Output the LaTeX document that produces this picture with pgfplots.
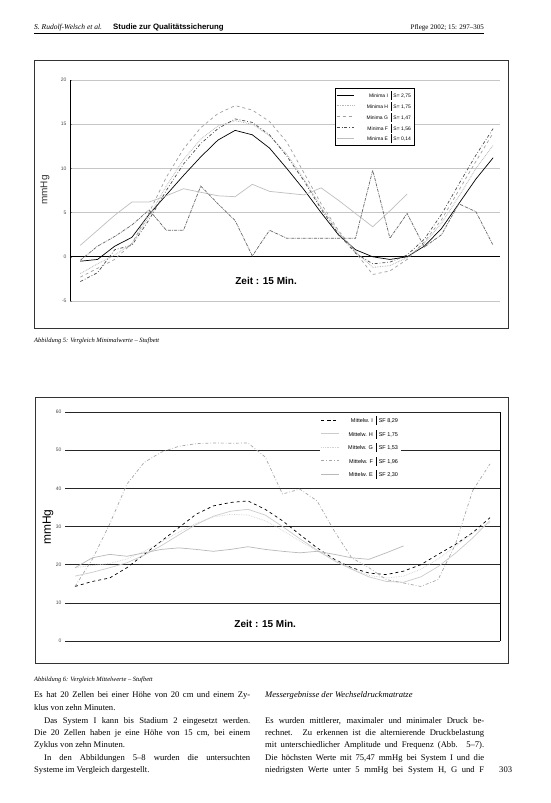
\documentclass[border=0pt]{standalone}
\usepackage{fontspec}
\setmainfont{Liberation Serif}
\setsansfont{Liberation Sans}
\usepackage{pgfplots}
\pgfplotsset{compat=1.18}
\usepackage{pgfplotstable}

\pgfplotstableread{
i G H I F X
0 -2.3 -1.9 -0.5 -2.8 -0.4
1 -1.3 -0.8 -0.3 -1.8 1.2
2 -0.3 0.2 1.2 0.8 2.3
3 1.5 1.5 2.2 1.3 3.6
4 5.0 4.6 4.8 4.2 5.3
5 9.0 8.0 7.0 7.5 3.0
6 12.2 11.0 9.2 10.5 3.0
7 14.6 13.3 11.3 12.8 8.0
8 16.2 14.8 13.2 14.5 6.0
9 17.1 15.4 14.3 15.6 4.1
10 16.6 15.0 13.8 15.2 0.1
11 15.3 13.7 12.3 13.8 3.0
12 13.0 11.6 10.0 11.4 2.1
13 9.5 8.8 7.6 8.6 2.1
14 6.0 5.6 5.0 5.4 2.1
15 3.0 2.8 2.5 2.6 2.1
16 0.5 0.6 0.8 0.4 2.1
17 -2.0 -1.2 0.0 -0.8 9.8
18 -1.6 -1.0 -0.3 -0.6 2.1
19 -0.3 -0.1 0.0 0.2 4.9
20 1.7 1.5 1.2 2.0 1.1
21 4.2 3.8 3.2 4.8 2.5
22 7.5 6.8 6.0 8.2 6.0
23 10.8 10.0 8.8 11.5 5.1
24 14.0 12.6 11.2 14.5 1.3
}\minima

\pgfplotstableread{
i E
0 1.3
1 3.0
2 4.7
3 6.2
4 6.2
5 6.9
6 7.7
7 7.3
8 6.9
9 6.8
10 8.2
11 7.4
12 7.2
13 7.0
14 7.8
15 6.4
16 4.9
17 3.4
18 5.2
19 7.1
}\minimaE

\pgfplotstableread{
i I A B C
0 14.3 14.3 17.0 19.2
1 21.4 15.6 18.0 19.8
2 30.6 16.5 19.2 20.3
3 41.1 19.2 20.5 21.5
4 46.8 22.7 22.5 23.5
5 49.5 26.2 25.0 26.0
6 51.0 29.7 27.8 28.5
7 51.7 33.2 30.5 30.8
8 51.9 35.4 32.7 32.5
9 51.8 36.3 34.0 33.2
10 51.9 36.7 34.5 33.0
11 48.2 34.5 33.0 31.5
12 38.5 31.5 30.0 29.0
13 39.8 27.9 26.8 26.2
14 36.7 24.4 23.8 23.6
15 28.8 21.4 21.0 21.3
16 21.8 19.2 18.8 19.0
17 19.2 17.8 16.8 17.2
18 16.1 17.4 15.6 16.5
19 15.2 18.3 15.4 17.0
20 14.3 20.0 16.8 18.8
21 16.1 22.7 19.5 21.5
22 25.3 25.3 23.0 24.8
23 39.4 28.4 27.0 28.2
24 46.4 32.3 31.5 31.0
}\mittel

\pgfplotstableread{
i E
0 19.2
1 21.8
2 22.7
3 22.2
4 23.1
5 24.0
6 24.4
7 24.0
8 23.5
9 24.0
10 24.7
11 24.0
12 23.5
13 23.1
14 23.5
15 22.7
16 21.8
17 21.4
18 23.1
19 24.9
}\mittelE

\newcommand{\legtxt}[2]{\makebox[32pt][r]{#1}\enspace\rule[-2.5pt]{0.4pt}{9pt}\enspace #2}

\begin{document}
\begin{tikzpicture}
\useasboundingbox[fill=white] (0pt,0pt) rectangle (551pt,803pt);

% header
\node[anchor=base west,inner sep=0pt,font=\fontsize{7.5}{9}\selectfont\itshape] at (34pt,773pt) {S. Rudolf-Welsch et al.};
\node[anchor=base west,inner sep=0pt,font=\fontsize{7.8}{9}\selectfont\sffamily\bfseries] at (113pt,773pt) {Studie zur Qualitätssicherung};
\node[anchor=base east,inner sep=0pt,font=\fontsize{7}{9}\selectfont] at (484pt,773pt) {Pflege 2002; 15: 297–305};
\draw[line width=0.8pt] (34pt,770pt) -- (484pt,770pt);

% frames
\draw[line width=0.5pt,black!80] (34pt,743pt) rectangle (508pt,475pt);
\draw[line width=0.5pt,black!80] (35pt,406pt) rectangle (508pt,140pt);

% ---------- chart 1 ----------
\begin{axis}[
  at={(70pt,502pt)}, anchor=south west,
  scale only axis, width=430pt, height=221pt,
  xmin=-0.6, xmax=24.4, ymin=-5, ymax=20,
  axis x line=none, axis y line*=left,
  y axis line style={black,line width=0.6pt},
  ytick={-5,0,5,10,15,20},
  ymajorgrids, grid style={gray!45,line width=0.6pt},
  major tick length=2pt,
  yticklabel style={font=\sffamily\fontsize{5}{6}\selectfont,text=black!70},
  /pgf/number format/assume math mode=true,
  clip=false,
  legend style={at={(0.616,0.964)},anchor=north west,draw=black,line width=0.4pt,
    font=\sffamily\fontsize{5}{6}\selectfont,inner sep=1pt,row sep=-1.2pt,
    fill=white},
  legend cell align=left,
  every axis plot/.append style={line width=0.7pt},
]
\draw[black,line width=0.8pt] (axis cs:-0.6,0) -- (axis cs:24.4,0);
\addplot[black] table[x=i,y=I] {\minima};
\addlegendentry{\legtxt{Minima I}{S= 2,75}}
\addplot[gray!55,densely dotted,line width=0.9pt] table[x=i,y=H] {\minima};
\addlegendentry{\legtxt{Minima H}{S= 1,75}}
\addplot[gray!75,dashed] table[x=i,y=G] {\minima};
\addlegendentry{\legtxt{Minima G}{S= 1,47}}
\addplot[black!70,dashdotted] table[x=i,y=F] {\minima};
\addlegendentry{\legtxt{Minima F}{S= 1,56}}
\addplot[gray!50] table[x=i,y=E] {\minimaE};
\addlegendentry{\legtxt{Minima E}{S= 0,14}}
\addplot[black!60,densely dashdotted,forget plot] table[x=i,y=X] {\minima};
\node[font=\sffamily\bfseries\fontsize{10}{12}\selectfont] at (axis cs:10.8,-2.7) {Zeit : 15 Min.};
\end{axis}
\node[rotate=90,font=\sffamily\fontsize{10}{12}\selectfont,text=black!80] at (45pt,613pt) {mmHg};
\node[anchor=base west,inner sep=0pt,font=\fontsize{6.5}{8}\selectfont\itshape] at (34pt,460pt) {Abbildung 5: Vergleich Minimalwerte – Stufbett};

% ---------- chart 2 ----------
\begin{axis}[
  at={(65pt,162pt)}, anchor=south west,
  scale only axis, width=435pt, height=229pt,
  xmin=-0.58, xmax=24.58, ymin=0, ymax=60,
  axis x line=none, axis y line*=left,
  y axis line style={draw=none},
  ytick={0,10,...,60},
  ymajorgrids, grid style={black!85,line width=0.6pt},
  major tick length=0pt,
  yticklabel style={font=\sffamily\fontsize{5}{6}\selectfont,text=black!70},
  /pgf/number format/assume math mode=true,
  clip=false,
  legend style={at={(0.586,0.996)},anchor=north west,draw=none,
    font=\sffamily\fontsize{5.5}{6.5}\selectfont,inner sep=1pt,row sep=1.5pt,
    fill=white},
  legend cell align=left,
  every axis plot/.append style={line width=0.7pt},
]
\draw[black,line width=0.6pt] (axis cs:24.58,0) -- (axis cs:24.58,60);
\addplot[black,dashed] table[x=i,y=A] {\mittel};
\addlegendentry{\legtxt{Mittelw. I}{SF 8,29}}
\addplot[gray!40] table[x=i,y=B] {\mittel};
\addlegendentry{\legtxt{Mittelw. H}{SF 1,75}}
\addplot[gray!35,densely dotted] table[x=i,y=C] {\mittel};
\addlegendentry{\legtxt{Mittelw. G}{SF 1,53}}
\addplot[gray!70,dashdotted] table[x=i,y=I] {\mittel};
\addlegendentry{\legtxt{Mittelw. F}{SF 1,96}}
\addplot[gray!55] table[x=i,y=E] {\mittelE};
\addlegendentry{\legtxt{Mittelw. E}{SF 2,30}}
\node[font=\sffamily\bfseries\fontsize{10}{12}\selectfont] at (axis cs:11,4.5) {Zeit : 15 Min.};
\end{axis}
\node[rotate=90,font=\sffamily\fontsize{12}{14}\selectfont] at (48pt,276pt) {mmHg};
\node[anchor=base west,inner sep=0pt,font=\fontsize{6.5}{8}\selectfont\itshape] at (34pt,121pt) {Abbildung 6: Vergleich Mittelwerte – Stufbett};

% ---------- body text ----------
\begin{scope}[every node/.style={anchor=base west,inner sep=0pt,font=\fontsize{8.6}{10}\selectfont}]
\node at (34pt,105pt) {\makebox[216pt][s]{Es hat 20 Zellen bei einer Höhe von 20 cm und einem Zy-}};
\node at (34pt,92pt) {klus von zehn Minuten.};
\node at (34pt,79pt) {\makebox[216pt][s]{\hspace*{10pt}Das System I kann bis Stadium 2 eingesetzt werden.}};
\node at (34pt,67pt) {\makebox[216pt][s]{Die 20 Zellen haben je eine Höhe von 15 cm, bei einem}};
\node at (34pt,55pt) {Zyklus von zehn Minuten.};
\node at (34pt,42pt) {\makebox[216pt][s]{\hspace*{10pt}In den Abbildungen 5–8 wurden die untersuchten}};
\node at (34pt,30pt) {Systeme im Vergleich dargestellt.};
\node[font=\fontsize{8.6}{10}\selectfont\itshape] at (265pt,105pt) {Messergebnisse der Wechseldruckmatratze};
\node at (265pt,79pt) {\makebox[219pt][s]{Es wurden mittlerer, maximaler und minimaler Druck be-}};
\node at (265pt,67pt) {\makebox[219pt][s]{rechnet. Zu erkennen ist die alternierende Druckbelastung}};
\node at (265pt,55pt) {\makebox[219pt][s]{mit unterschiedlicher Amplitude und Frequenz (Abb. 5–7).}};
\node at (265pt,42pt) {\makebox[219pt][s]{Die höchsten Werte mit 75,47 mmHg bei System I und die}};
\node at (265pt,30pt) {\makebox[219pt][s]{niedrigsten Werte unter 5 mmHg bei System H, G und F}};
\node at (499pt,30pt) {303};
\end{scope}
\end{tikzpicture}
\end{document}
